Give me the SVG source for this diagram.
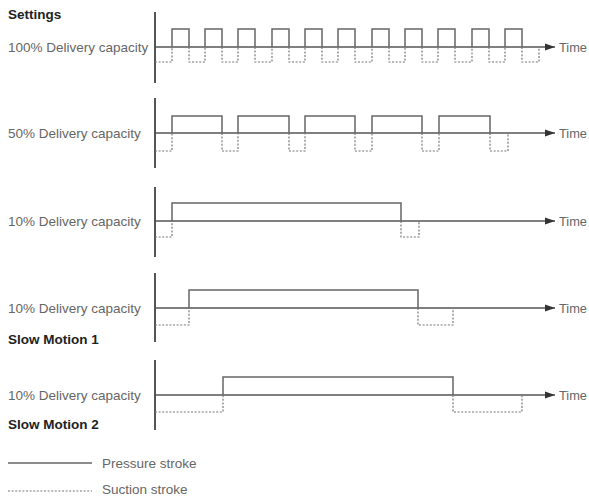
<svg xmlns="http://www.w3.org/2000/svg" width="589" height="498" viewBox="0 0 589 498">
<style>
.lbl{font-family:"Liberation Sans",Arial,sans-serif;font-size:13.5px;fill:#666}
.bold{font-family:"Liberation Sans",Arial,sans-serif;font-size:13.5px;font-weight:bold;fill:#222}
.axis{stroke:#555;stroke-width:2;fill:none}
.base{stroke:#555;stroke-width:1.5;fill:none}
.p{stroke:#666;stroke-width:1.5;fill:none}
.s{stroke:#777;stroke-width:1.2;stroke-dasharray:2 1.6;fill:none}
</style>
<defs>
<marker id="arr" markerWidth="10" markerHeight="8" refX="10" refY="4" orient="auto" markerUnits="userSpaceOnUse">
<path d="M0,0.5 L10,4 L0,7.5 Z" fill="#333"/>
</marker>
</defs>
<rect width="589" height="498" fill="#fff"/>

<g id="panel1">
<text class="bold" x="8" y="19">Settings</text>
<text class="lbl" x="8" y="52">100% Delivery capacity</text>
<line class="axis" x1="155" y1="12" x2="155" y2="83"/>
<line class="base" x1="155" y1="47" x2="555" y2="47" marker-end="url(#arr)"/>
<text class="lbl" x="559" y="52" textLength="28" lengthAdjust="spacingAndGlyphs">Time</text>
<path class="p" d="M172,47 V29 H189 V47 M205,47 V29 H222 V47 M238,47 V29 H255 V47 M272,47 V29 H289 V47 M305,47 V29 H322 V47 M338,47 V29 H355 V47 M372,47 V29 H389 V47 M405,47 V29 H422 V47 M438,47 V29 H455 V47 M472,47 V29 H489 V47 M505,47 V29 H522 V47"/>
<path class="s" d="M155,62 H172 V47 M189,47 V62 H205 V47 M222,47 V62 H238 V47 M255,47 V62 H272 V47 M289,47 V62 H305 V47 M322,47 V62 H338 V47 M355,47 V62 H372 V47 M389,47 V62 H405 V47 M422,47 V62 H438 V47 M455,47 V62 H472 V47 M489,47 V62 H505 V47 M522,47 V62 H539 V47"/>
</g>

<g id="panel2">
<text class="lbl" x="8" y="138">50% Delivery capacity</text>
<line class="axis" x1="155" y1="98" x2="155" y2="168"/>
<line class="base" x1="155" y1="133" x2="555" y2="133" marker-end="url(#arr)"/>
<text class="lbl" x="559" y="138" textLength="28" lengthAdjust="spacingAndGlyphs">Time</text>
<path class="p" d="M172,133 V116 H222 V133 M238,133 V116 H289 V133 M305,133 V116 H355 V133 M372,133 V116 H422 V133 M439,133 V116 H490 V133"/>
<path class="s" d="M155,151 H172 V133 M222,133 V151 H238 V133 M289,133 V151 H305 V133 M355,133 V151 H372 V133 M422,133 V151 H439 V133 M490,133 V151 H508 V133"/>
</g>

<g id="panel3">
<text class="lbl" x="8" y="226">10% Delivery capacity</text>
<line class="axis" x1="155" y1="187" x2="155" y2="257"/>
<line class="base" x1="155" y1="221" x2="555" y2="221" marker-end="url(#arr)"/>
<text class="lbl" x="559" y="226" textLength="28" lengthAdjust="spacingAndGlyphs">Time</text>
<path class="p" d="M172,221 V203 H401 V221"/>
<path class="s" d="M155,237 H172 V221 M401,221 V237 H419 V221"/>
</g>

<g id="panel4">
<text class="lbl" x="8" y="313">10% Delivery capacity</text>
<text class="bold" x="8" y="344">Slow Motion 1</text>
<line class="axis" x1="155" y1="273" x2="155" y2="342"/>
<line class="base" x1="155" y1="308" x2="555" y2="308" marker-end="url(#arr)"/>
<text class="lbl" x="559" y="313" textLength="28" lengthAdjust="spacingAndGlyphs">Time</text>
<path class="p" d="M189,308 V290 H418 V308"/>
<path class="s" d="M155,325 H189 V308 M418,308 V325 H453 V308"/>
</g>

<g id="panel5">
<text class="lbl" x="8" y="400">10% Delivery capacity</text>
<text class="bold" x="8" y="429">Slow Motion 2</text>
<line class="axis" x1="155" y1="360" x2="155" y2="430"/>
<line class="base" x1="155" y1="395" x2="555" y2="395" marker-end="url(#arr)"/>
<text class="lbl" x="559" y="400" textLength="28" lengthAdjust="spacingAndGlyphs">Time</text>
<path class="p" d="M223,395 V377 H453 V395"/>
<path class="s" d="M155,412 H223 V395 M453,395 V412 H522 V395"/>
</g>

<g id="legend">
<line class="p" x1="8" y1="463" x2="92" y2="463"/>
<text class="lbl" x="102" y="468">Pressure stroke</text>
<line class="s" x1="8" y1="491" x2="92" y2="491"/>
<text class="lbl" x="102" y="494">Suction stroke</text>
</g>
</svg>
